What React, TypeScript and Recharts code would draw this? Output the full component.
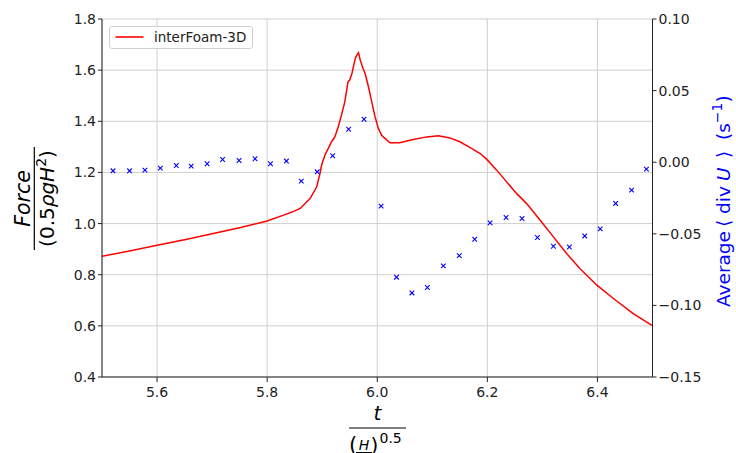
import React from 'react';
import {
  ComposedChart, Line, Scatter, XAxis, YAxis, CartesianGrid, Legend,
} from 'recharts';

// Red curve: interFoam-3D force (left axis)
const forceT = [
  5.500, 5.550, 5.600, 5.650, 5.700, 5.750, 5.800, 5.830, 5.845, 5.860,
  5.878, 5.890, 5.896, 5.899, 5.905, 5.914, 5.917, 5.923, 5.929, 5.935,
  5.941, 5.947, 5.950, 5.954, 5.960, 5.963, 5.966, 5.969, 5.974, 5.978,
  5.984, 5.990, 5.996, 6.002, 6.008, 6.014, 6.023, 6.041, 6.065, 6.090,
  6.111, 6.132, 6.150, 6.168, 6.187, 6.199, 6.217, 6.235, 6.253, 6.271,
  6.296, 6.320, 6.344, 6.368, 6.399, 6.429, 6.465, 6.499,
];
const forceF = [
  0.872, 0.893, 0.915, 0.937, 0.960, 0.984, 1.010, 1.033, 1.045, 1.059,
  1.098, 1.144, 1.196, 1.229, 1.268, 1.307, 1.320, 1.339, 1.378, 1.424,
  1.476, 1.555, 1.561, 1.587, 1.646, 1.659, 1.668, 1.640, 1.607, 1.587,
  1.535, 1.476, 1.418, 1.372, 1.345, 1.333, 1.316, 1.316, 1.329, 1.339,
  1.343, 1.335, 1.320, 1.298, 1.274, 1.251, 1.209, 1.163, 1.118, 1.079,
  1.013, 0.948, 0.883, 0.824, 0.759, 0.707, 0.648, 0.602,
];

// Blue crosses: average div U (right axis)
const divT = [
  5.520, 5.550, 5.578, 5.606, 5.635, 5.662, 5.691, 5.719, 5.749, 5.778,
  5.806, 5.835, 5.862, 5.891, 5.919, 5.948, 5.976, 6.007, 6.035, 6.063,
  6.091, 6.120, 6.149, 6.177, 6.205, 6.234, 6.263, 6.291, 6.320, 6.349,
  6.377, 6.405, 6.433, 6.462, 6.489,
];
const divU = [
  -0.0060, -0.0060, -0.0055, -0.0041, -0.0023, -0.0027, -0.0011, 0.0019, 0.0012, 0.0024,
  -0.0011, 0.0008, -0.0132, -0.0067, 0.0045, 0.0230, 0.0300, -0.0307, -0.0803, -0.0913,
  -0.0875, -0.0724, -0.0652, -0.0538, -0.0424, -0.0386, -0.0393, -0.0526, -0.0587, -0.0592,
  -0.0515, -0.0466, -0.0288, -0.0195, -0.0048,
];

const xTicks = [5.6, 5.8, 6.0, 6.2, 6.4];
const leftTicks = [0.4, 0.6, 0.8, 1.0, 1.2, 1.4, 1.6, 1.8];
const rightTicks = [-0.15, -0.10, -0.05, 0.0, 0.05, 0.10];

const lineData = forceT.map((t, i) => ({ t, F: forceF[i] }));
const scatterData = divT.map((t, i) => ({ t, v: divU[i] }));

const FONT = 'DejaVu Sans';
const tickStyle = { fontFamily: FONT, fontSize: 14, fill: '#222' };

const fmtRight = (v: number) => (v < -1e-9 ? '\u2212' : '') + Math.abs(v).toFixed(2);

const Cross = (props: any) => {
  const { cx, cy } = props;
  if (cx == null || cy == null) return null;
  const s = 2.3;
  return (
    <g stroke="#0000ff" strokeWidth={1.1}>
      <line x1={cx - s} y1={cy - s} x2={cx + s} y2={cy + s} />
      <line x1={cx - s} y1={cy + s} x2={cx + s} y2={cy - s} />
    </g>
  );
};

const LeftLabel = () => (
  <g fontFamily={FONT} fill="#000">
    <text x={30} y={198.5} transform="rotate(-90, 30, 198.5)" textAnchor="middle" fontSize={20.5} fontStyle="italic">Force</text>
    <line x1={34.3} y1={147} x2={34.3} y2={250} stroke="#000" strokeWidth={1.2} />
    <text x={54} y={198.5} transform="rotate(-90, 54, 198.5)" textAnchor="middle" fontSize={20}>
      (0.5<tspan fontStyle="italic">ρgH</tspan><tspan fontSize={14} dy={-8}>2</tspan><tspan dy={8}>)</tspan>
    </text>
  </g>
);

const rot = (y: number) => `rotate(-90, 730, ${y})`;

const RightLabel = () => (
  <g fontFamily={FONT} fill="#0000ff" fontSize={18.5}>
    <text x={730} y={307} transform={rot(307)}>Average</text>
    <text x={730} y={227} transform={rot(227)}>⟨</text>
    <text x={730} y={214} transform={rot(214)}>div</text>
    <text x={730} y={181} transform={rot(181)} fontStyle="italic">U</text>
    <text x={730} y={158} transform={rot(158)}>⟩</text>
    <text x={730} y={140} transform={rot(140)}>
      (s<tspan fontSize={14} dy={-8}>−1</tspan><tspan dy={8}>)</tspan>
    </text>
  </g>
);

const BottomLabel = () => (
  <g fontFamily={FONT} fill="#000">
    <text x={377.5} y={420} textAnchor="middle" fontSize={20} fontStyle="italic">t</text>
    <line x1={349} y1={428} x2={406} y2={428} stroke="#000" strokeWidth={1.2} />
    <text x={349} y={452} fontSize={21}>(</text>
    <text x={364} y={450} textAnchor="middle" fontSize={14} fontStyle="italic">H</text>
    <line x1={356} y1={452.5} x2={372} y2={452.5} stroke="#000" strokeWidth={1} />
    <text x={364} y={466} textAnchor="middle" fontSize={14} fontStyle="italic">g</text>
    <text x={370.5} y={452} fontSize={20}>)</text>
    <text x={379.5} y={443} fontSize={14}>0.5</text>
  </g>
);

const LegendBox = () => (
  <div
    style={{
      position: 'relative', width: 144, height: 23, boxSizing: 'border-box',
      border: '1px solid #d0d0d0', borderRadius: 3, background: 'rgba(255,255,255,0.8)',
      fontFamily: FONT, fontSize: 13.5, color: '#222',
    }}
  >
    <svg width={40} height={22} style={{ position: 'absolute', left: 0, top: 0 }}>
      <line x1={5.5} y1={10} x2={33.5} y2={10} stroke="#ff0000" strokeWidth={1.6} />
    </svg>
    <span style={{ position: 'absolute', left: 44, top: 2, lineHeight: '16px', whiteSpace: 'nowrap' }}>interFoam-3D</span>
  </div>
);

export default function App() {
  return (
    <div style={{ position: 'absolute', left: 0, top: 0, width: 736, height: 453, overflow: 'hidden', background: '#fff' }}>
      <ComposedChart width={736} height={453} margin={{ top: 19, right: 0, bottom: 0, left: 0 }}>
        <CartesianGrid yAxisId="left" stroke="#cfcfcf" strokeWidth={1} vertical horizontal />
        <XAxis
          dataKey="t" type="number" domain={[5.5, 6.5]} ticks={xTicks} allowDataOverflow
          tickFormatter={(v: number) => v.toFixed(1)} tick={tickStyle}
          tickSize={5} tickMargin={5} height={76}
          axisLine={{ stroke: '#222' }} tickLine={{ stroke: '#222' }}
          label={{ content: () => <BottomLabel /> }}
        />
        <XAxis
          xAxisId="top" orientation="top" dataKey="t" type="number" domain={[5.5, 6.5]}
          tick={false} tickLine={false} height={0} axisLine={{ stroke: '#222' }}
        />
        <YAxis
          yAxisId="left" orientation="left" type="number" domain={[0.4, 1.8]} ticks={leftTicks}
          allowDataOverflow tickFormatter={(v: number) => v.toFixed(1)} tick={tickStyle}
          tickSize={4} tickMargin={2} width={102}
          axisLine={{ stroke: '#222' }} tickLine={{ stroke: '#222' }}
          label={{ content: () => <LeftLabel /> }}
        />
        <YAxis
          yAxisId="right" orientation="right" type="number" domain={[-0.15, 0.1]} ticks={rightTicks}
          allowDataOverflow tickFormatter={fmtRight} tick={tickStyle}
          tickSize={4} tickMargin={2} width={83.5}
          axisLine={{ stroke: '#222' }} tickLine={{ stroke: '#222' }}
          label={{ content: () => <RightLabel /> }}
        />
        <Line
          yAxisId="left" data={lineData} dataKey="F" type="linear" stroke="#ff0000"
          strokeWidth={1.5} dot={false} isAnimationActive={false} name="interFoam-3D"
        />
        <Scatter
          yAxisId="right" data={scatterData} dataKey="v" shape={<Cross />}
          isAnimationActive={false} legendType="none"
        />
        <Legend
          layout="horizontal" verticalAlign="middle" align="center"
          content={() => <LegendBox />}
          wrapperStyle={{ position: 'absolute', left: 109, top: 26, width: 144, height: 23 }}
        />
      </ComposedChart>
    </div>
  );
}
